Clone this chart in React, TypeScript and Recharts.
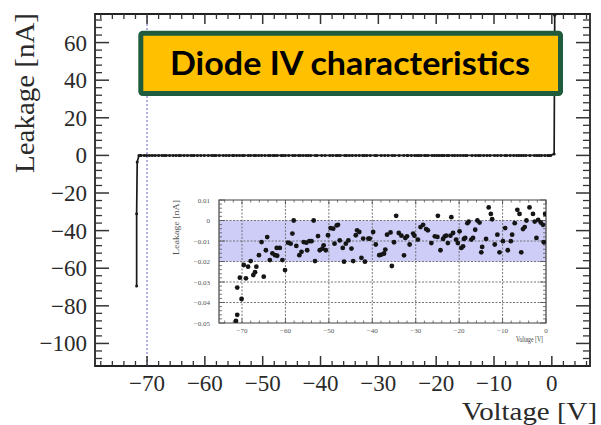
import React from 'react';
import {
  LineChart,
  Line,
  XAxis,
  YAxis,
  ReferenceLine,
  ReferenceArea,
  ScatterChart,
  Scatter,
} from 'recharts';

// ---------- data ----------
const insetVoltage = [
  -71.4, -71.1, -71.1, -70.5, -70.1, -69.6, -69.1, -68.6, -68.0, -67.4,
  -67.0, -66.7, -66.1, -65.5, -65.0, -64.5, -64.2, -63.6, -63.0, -62.4,
  -62.0, -61.9, -61.3, -60.7, -60.1, -59.4, -58.8, -58.4, -58.1, -57.5,
  -56.8, -56.3, -55.8, -55.2, -55.0, -54.5, -54.0, -53.5, -53.2, -52.5,
  -52.1, -51.5, -51.2, -50.7, -50.2, -49.6, -49.0, -48.7, -48.2, -47.9,
  -47.5, -46.8, -46.5, -46.1, -45.5, -44.8, -44.4, -43.8, -43.5, -43.0,
  -42.5, -42.1, -41.7, -40.9, -40.6, -39.8, -39.2, -38.4, -37.9, -37.3,
  -37.0, -36.6, -35.8, -35.5, -35.0, -34.5, -33.9, -33.3, -32.7, -32.4,
  -32.0, -31.4, -30.6, -30.3, -29.5, -28.9, -28.3, -27.6, -27.2, -26.4,
  -25.6, -25.0, -24.9, -24.3, -23.7, -23.3, -23.0, -22.6, -22.0, -21.8,
  -21.4, -20.7, -20.3, -19.9, -19.5, -19.1, -18.9, -18.6, -18.1, -17.8,
  -17.2, -16.8, -16.3, -15.8, -15.3, -14.9, -14.7, -13.8, -13.2, -12.7,
  -12.4, -11.8, -11.2, -10.7, -9.9, -9.4, -8.8, -8.1, -7.8, -7.2,
  -6.6, -6.1, -5.7, -5.3, -4.9, -4.5, -3.8, -3.0, -2.6, -2.2,
  -1.8, -1.2, -0.7, -0.5, -0.2,
];
const insetLeakage = [
  -0.049, -0.046, -0.0327, -0.0279, -0.0383, -0.0217, -0.0282, -0.0225, -0.0198, -0.0266,
  -0.0252, -0.0225, -0.0169, -0.0105, -0.0274, -0.0145, -0.0081, -0.0193, -0.016, -0.0169,
  -0.0134, -0.0172, -0.0134, -0.0193, -0.0242, -0.0108, -0.0113, -0.0064, 0.0, -0.0124,
  -0.0169, -0.0153, -0.0105, -0.0108, -0.0145, -0.0101, -0.0101, 0.0, -0.0198, -0.0076,
  -0.0145, -0.0137, -0.0121, -0.0145, -0.0072, -0.0037, -0.004, -0.0113, -0.0024, -0.0021,
  -0.0097, -0.0134, -0.0201, -0.0113, -0.0097, -0.0137, -0.0198, -0.0072, -0.0048, -0.0056,
  -0.0182, -0.0088, -0.0201, -0.0088, -0.0088, -0.0056, -0.0117, -0.0169, -0.0166, -0.0161,
  -0.0142, -0.0069, -0.0058, -0.0222, -0.0106, 0.0023, -0.0061, -0.0074, -0.017, -0.0085,
  -0.0077, -0.0117, -0.0064, -0.0074, -0.0093, -0.0032, -0.0021, -0.0042, -0.0048, -0.011,
  -0.0077, -0.008, 0.0023, -0.0145, -0.009, -0.0077, -0.0074, -0.011, -0.0074, 0.0016,
  -0.0061, -0.0093, -0.011, -0.0053, -0.0134, -0.0126, -0.009, -0.0085, -0.0013, -0.0005,
  -0.0093, -0.0085, -0.0045, 0.0, -0.001, -0.0155, -0.0129, -0.009, 0.0064, 0.0032,
  0.0006, -0.0117, -0.0069, -0.0155, -0.0101, -0.0037, -0.0145, -0.0101, -0.0069, -0.0013,
  0.0052, 0.0032, -0.0155, -0.0042, -0.0032, 0.0, 0.0064, 0.0032, -0.0005, -0.0085,
  0.0003, -0.001, -0.0021, -0.0106, 0.0032,
];
const breakdownVoltage = [-71.8, -71.8, -71.7];
const breakdownLeakage = [-69.5, -31, -3.5];
const forwardVoltage = [0.4, 0.5];
const forwardLeakage = [0.8, 74.5];

// ---------- ticks ----------
const mainXTicks = [-70, -60, -50, -40, -30, -20, -10, 0];
const mainXMinor = [-78, -76, -74, -72, -68, -66, -64, -62, -58, -56, -54, -52, -48, -46, -44, -42, -38, -36, -34, -32, -28, -26, -24, -22, -18, -16, -14, -12, -8, -6, -4, -2, 2, 4, 6];
const mainYTicks = [-100, -80, -60, -40, -20, 0, 20, 40, 60];
const mainYMinor = [-108, -104, -96, -92, -88, -84, -76, -72, -68, -64, -56, -52, -48, -44, -36, -32, -28, -24, -16, -12, -8, -4, 4, 8, 12, 16, 24, 28, 32, 36, 44, 48, 52, 56, 64, 68, 72];
const insetXTicks = [-70, -60, -50, -40, -30, -20, -10, 0];
const insetXMinor = [-74, -72, -68, -66, -64, -62, -58, -56, -54, -52, -48, -46, -44, -42, -38, -36, -34, -32, -28, -26, -24, -22, -18, -16, -14, -12, -8, -6, -4, -2];
const insetYTicks = [-0.05, -0.04, -0.03, -0.02, -0.01, 0, 0.01];
const insetYMinor = [-0.048, -0.046, -0.044, -0.042, -0.038, -0.036, -0.034, -0.032, -0.028, -0.026, -0.024, -0.022, -0.018, -0.016, -0.014, -0.012, -0.008, -0.006, -0.004, -0.002, 0.002, 0.004, 0.006, 0.008];
const insetGridY = [-0.04, -0.03, -0.02, -0.01, 0];
const insetGridX = [-70, -60, -50, -40, -30, -20, -10];

// ---------- build tables ----------
const mainData = [
  ...breakdownVoltage.map((v, i) => ({ v, i: breakdownLeakage[i] })),
  ...insetVoltage.map((v, i) => ({ v, i: insetLeakage[i] })),
  ...forwardVoltage.map((v, i) => ({ v, i: forwardLeakage[i] })),
];
const insetData = insetVoltage.map((v, i) => ({ v, i: insetLeakage[i] }));

const MAIN_X: [number, number] = [-79, 6.6];
const MAIN_Y: [number, number] = [-112, 75.2];
const INSET_X: [number, number] = [-75.3, 0];
const INSET_Y: [number, number] = [-0.05, 0.01];

const fmt = (v: number) => String(v).replace('-', '\u2212');

// inward tick marks drawn at both ends of a reference line
const tickShape = (len: number, color: string, w: number) => (p: any) => {
  const { x1, y1, x2, y2 } = p;
  const dx = x2 - x1;
  const dy = y2 - y1;
  const d = Math.hypot(dx, dy) || 1;
  const ux = (dx / d) * len;
  const uy = (dy / d) * len;
  return (
    <g>
      <line x1={x1} y1={y1} x2={x1 + ux} y2={y1 + uy} stroke={color} strokeWidth={w} />
      <line x1={x2} y1={y2} x2={x2 - ux} y2={y2 - uy} stroke={color} strokeWidth={w} />
    </g>
  );
};

const SERIF = 'Liberation Serif, DejaVu Serif, serif';

// custom tick label renderers (serif font)
const xLabel = (size: number, color: string, dy: number) => (p: any) => (
  <text
    x={p.x}
    y={p.y + dy}
    textAnchor="middle"
    style={{ fontFamily: SERIF, fontSize: size }}
    fill={color}
  >
    {fmt(p.payload.value)}
  </text>
);
const yLabel = (size: number, color: string, dy: number) => (p: any) => (
  <text
    x={p.x}
    y={p.y + dy}
    textAnchor="end"
    style={{ fontFamily: SERIF, fontSize: size }}
    fill={color}
  >
    {fmt(p.payload.value)}
  </text>
);

function MainChart() {
  return (
    <LineChart
      width={601}
      height={425}
      data={mainData}
      margin={{ top: 14, right: 11, left: 0, bottom: 0 }}
    >
      <XAxis
        type="number"
        dataKey="v"
        domain={MAIN_X}
        ticks={mainXTicks}
        interval={0}
        allowDataOverflow
        height={59}
        tickLine={false}
        axisLine={false}
        tickSize={0}
        tickMargin={11}
        tick={xLabel(23, '#2a2a2a', 14)}
      />
      <YAxis
        type="number"
        dataKey="i"
        domain={MAIN_Y}
        ticks={mainYTicks}
        interval={0}
        allowDataOverflow
        width={95}
        tickLine={false}
        axisLine={false}
        tickSize={0}
        tickMargin={8}
        tick={yLabel(23, '#2a2a2a', 8)}
      />
      <ReferenceLine x={-70} stroke="#6464d8" strokeDasharray="2 2" strokeWidth={1} />
      {mainXMinor.map((t) => (
        <ReferenceLine key={'xm' + t} x={t} shape={tickShape(5, '#333', 1.3)} />
      ))}
      {mainXTicks.map((t) => (
        <ReferenceLine key={'xM' + t} x={t} shape={tickShape(10, '#333', 1.5)} />
      ))}
      {mainYMinor.map((t) => (
        <ReferenceLine key={'ym' + t} y={t} shape={tickShape(7, '#333', 1.3)} />
      ))}
      {mainYTicks.map((t) => (
        <ReferenceLine key={'yM' + t} y={t} shape={tickShape(14, '#333', 1.5)} />
      ))}
      <ReferenceArea
        x1={MAIN_X[0]}
        x2={MAIN_X[1]}
        y1={MAIN_Y[0]}
        y2={MAIN_Y[1]}
        fill="none"
        fillOpacity={0}
        stroke="#222"
        strokeWidth={1.8}
      />
      <Line
        type="linear"
        dataKey="i"
        stroke="#1a1a1a"
        strokeWidth={1.7}
        dot={{ r: 1.5, fill: '#1a1a1a', stroke: 'none' }}
        isAnimationActive={false}
      />
    </LineChart>
  );
}

function InsetChart() {
  return (
    <ScatterChart
      width={395}
      height={162}
      margin={{ top: 12, right: 9, left: 0, bottom: 0 }}
      style={{ background: '#fff' }}
    >
      <XAxis
        type="number"
        dataKey="v"
        domain={INSET_X}
        ticks={insetXTicks}
        interval={0}
        allowDataOverflow
        height={27}
        tickLine={false}
        axisLine={false}
        tickSize={0}
        tickMargin={5}
        tick={xLabel(7, '#555', 5)}
      />
      <YAxis
        type="number"
        dataKey="i"
        domain={INSET_Y}
        ticks={insetYTicks}
        interval={0}
        allowDataOverflow
        width={59}
        tickLine={false}
        axisLine={false}
        tickSize={0}
        tickMargin={9}
        tick={yLabel(7, '#555', 2.5)}
      />
      <ReferenceArea y1={-0.02} y2={0} fill="#cdcdf7" fillOpacity={1} stroke="none" />
      {insetGridY.map((t) => (
        <ReferenceLine key={'gy' + t} y={t} stroke="#666" strokeDasharray="2 1.5" strokeWidth={0.9} />
      ))}
      {insetGridX.map((t) => (
        <ReferenceLine key={'gx' + t} x={t} stroke="#666" strokeDasharray="2 1.5" strokeWidth={0.9} />
      ))}
      {insetXMinor.map((t) => (
        <ReferenceLine key={'ixm' + t} x={t} shape={tickShape(2.5, '#555', 0.8)} />
      ))}
      {insetXTicks.map((t) => (
        <ReferenceLine key={'ixM' + t} x={t} shape={tickShape(4.5, '#555', 0.9)} />
      ))}
      {insetYMinor.map((t) => (
        <ReferenceLine key={'iym' + t} y={t} shape={tickShape(3, '#555', 0.8)} />
      ))}
      {insetYTicks.map((t) => (
        <ReferenceLine key={'iyM' + t} y={t} shape={tickShape(6, '#555', 0.9)} />
      ))}
      <ReferenceArea
        x1={INSET_X[0]}
        x2={INSET_X[1]}
        y1={INSET_Y[0]}
        y2={INSET_Y[1]}
        fill="none"
        fillOpacity={0}
        stroke="#444"
        strokeWidth={1.2}
      />
      <Scatter
        data={insetData}
        isAnimationActive={false}
        shape={(p: any) => <circle cx={p.cx} cy={p.cy} r={2.4} fill="#151515" />}
      />
    </ScatterChart>
  );
}

export default function App() {
  return (
    <div style={{ position: 'absolute', left: 0, top: 0, width: 601, height: 425, background: '#fff' }}>
      <div style={{ position: 'absolute', left: 0, top: 0 }}>
        <MainChart />
      </div>
      <div style={{ position: 'absolute', left: 160, top: 188 }}>
        <InsetChart />
      </div>
      <svg
        width={601}
        height={425}
        style={{ position: 'absolute', left: 0, top: 0, pointerEvents: 'none' }}
      >
        <text
          x={34}
          y={13}
          transform="rotate(-90 34 13)"
          textAnchor="end"
          fontFamily={SERIF}
          fontSize={27}
          fill="#2a2a2a"
          textLength={160}
          lengthAdjust="spacingAndGlyphs"
        >
          Leakage [nA]
        </text>
        <text
          x={597}
          y={420}
          textAnchor="end"
          fontFamily={SERIF}
          fontSize={26}
          fill="#2a2a2a"
          textLength={135}
          lengthAdjust="spacingAndGlyphs"
        >
          Voltage [V]
        </text>
        <text
          x={179}
          y={200}
          transform="rotate(-90 179 200)"
          textAnchor="end"
          fontFamily={SERIF}
          fontSize={9}
          fill="#555"
          textLength={55}
          lengthAdjust="spacingAndGlyphs"
        >
          Leakage [nA]
        </text>
        <text
          x={543}
          y={342}
          textAnchor="end"
          fontFamily={SERIF}
          fontSize={9}
          fill="#444"
          textLength={27}
          lengthAdjust="spacingAndGlyphs"
        >
          Voltage [V]
        </text>
        <rect
          x={140.8}
          y={33.2}
          width={419.7}
          height={60.3}
          rx={2}
          fill="#FFC000"
          stroke="#1f5c3d"
          strokeWidth={5}
        />
        <text
          x={350}
          y={74.5}
          textAnchor="middle"
          fontFamily="Lato, 'Open Sans', sans-serif"
          fontWeight={700}
          fontSize={32}
          fill="#000"
          textLength={360}
          lengthAdjust="spacingAndGlyphs"
        >
          Diode IV characteristics
        </text>
      </svg>
    </div>
  );
}
